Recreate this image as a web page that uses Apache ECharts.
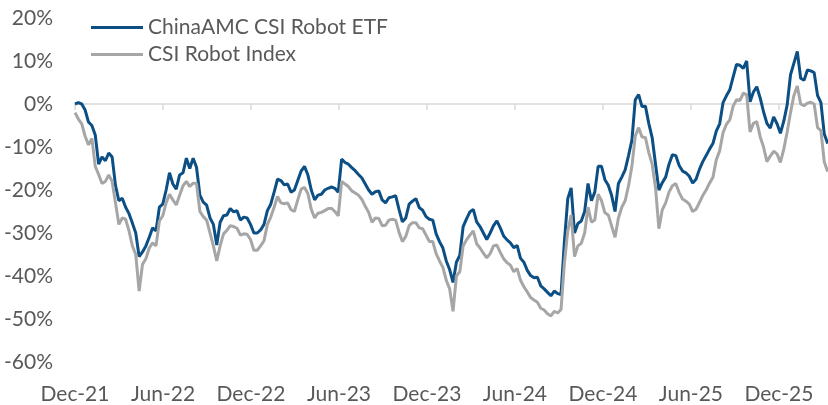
<!DOCTYPE html>
<html>
<head>
<meta charset="utf-8">
<script src="https://cdn.jsdelivr.net/npm/echarts@6/dist/echarts.min.js"></script>
<style>
html,body{margin:0;padding:0;background:#fff;}
#chart{width:828px;height:405px;}
</style>
</head>
<body>
<div id="chart"></div>
<script>
// Weekly cumulative return (%) starting Dec-21, one value per week
const seriesNames = ['ChinaAMC CSI Robot ETF', 'CSI Robot Index'];
const tickLabels = ['Dec-21','Jun-22','Dec-22','Jun-23','Dec-23','Jun-24','Dec-24','Jun-25','Dec-25'];
const weeksPerTick = 26.07; // six months in weeks
const etfValues = [
0,0.3,0,-1.4,-4.2,-5.0,-7.2,-14.0,-12.3,-13.2,
-11.4,-12.3,-19.0,-22.5,-21.9,-24.0,-25.5,-27.7,-30.0,-35.5,
-34.4,-33.0,-31.0,-28.8,-29.5,-24.0,-23.3,-20.0,-16.0,-18.6,
-19.8,-16.5,-16.0,-12.6,-15.0,-12.6,-14.7,-21.2,-22.8,-23.5,
-26.5,-28.0,-32.8,-27.5,-26.0,-25.8,-24.3,-25.1,-24.8,-27.0,
-26.3,-26.5,-28.0,-30.0,-30.0,-29.3,-28.0,-24.8,-23.3,-20.5,
-17.5,-17.8,-18.8,-18.6,-20.5,-20.0,-17.8,-15.6,-14.5,-16.5,
-20.0,-22.3,-21.2,-21.0,-20.0,-19.6,-19.3,-19.6,-20.5,-12.8,
-13.6,-14.0,-14.8,-15.5,-16.4,-17.2,-18.6,-20.0,-21.0,-20.4,
-20.2,-22.3,-23.0,-21.8,-21.6,-21.3,-24.5,-27.4,-26.5,-23.3,
-22.6,-22.0,-24.1,-24.7,-26.2,-26.8,-27.0,-30.2,-32.0,-33.5,
-36.5,-38.5,-41.5,-36.8,-35.2,-28.5,-26.7,-25.1,-24.5,-27.4,
-28.5,-30.0,-31.5,-30.0,-28.3,-27.2,-28.8,-30.7,-31.6,-32.3,
-33.4,-32.9,-35.9,-36.8,-38.7,-39.9,-40.4,-40.3,-42.3,-43.0,
-43.8,-44.6,-43.5,-44.1,-44.3,-32.0,-22.0,-19.5,-30.0,-27.8,
-27.2,-25.0,-18.5,-22.5,-20.5,-14.5,-14.5,-17.6,-18.9,-21.3,
-25.0,-18.5,-17.0,-15.3,-12.0,-8.4,1.0,2.2,-0.6,-0.5,
-4.5,-7.8,-14.0,-20.0,-18.3,-17.0,-14.0,-11.8,-12.0,-14.3,
-15.6,-16.0,-16.8,-18.4,-17.5,-15.2,-13.4,-12.0,-10.5,-9.2,
-6.3,-4.6,0.3,1.9,3.3,6.3,9.2,9.0,8.3,10.0,
0.5,2.8,4.0,1.4,-1.8,-4.5,-5.6,-3.0,-4.6,-6.8,
-4.0,-0.2,6.8,9.5,12.2,6.0,5.5,7.9,7.7,7.3,
2.0,0.3,-7.0,-9.2
];
const indexValues = [
-2.0,-3.5,-4.6,-7.5,-9.5,-8.0,-14.5,-16.4,-18.5,-18.0,
-16.5,-18.0,-23.0,-28.0,-26.5,-26.8,-29.5,-33.0,-35.0,-43.5,
-37.3,-36.0,-33.5,-32.3,-33.0,-27.2,-26.0,-23.0,-21.0,-22.3,
-23.5,-21.2,-19.0,-18.0,-19.2,-18.4,-18.5,-25.0,-26.2,-27.0,
-30.0,-33.0,-36.5,-33.0,-30.2,-29.4,-28.3,-28.5,-28.9,-30.5,
-30.2,-30.3,-31.5,-34.0,-34.0,-33.0,-31.8,-28.0,-26.3,-24.0,
-21.5,-23.0,-23.2,-23.0,-24.6,-25.0,-22.3,-19.8,-19.4,-20.8,
-24.5,-26.5,-25.4,-25.2,-24.8,-24.3,-24.3,-25.0,-26.0,-18.0,
-18.6,-19.2,-20.2,-20.7,-21.2,-22.2,-23.8,-25.2,-27.5,-26.5,
-26.6,-28.3,-28.2,-27.0,-26.8,-27.0,-29.8,-32.0,-30.8,-28.3,
-27.6,-27.6,-28.8,-29.0,-30.5,-32.0,-32.0,-34.8,-36.5,-38.0,
-41.0,-43.0,-48.2,-40.0,-39.0,-33.0,-31.6,-30.5,-29.5,-32.5,
-33.5,-34.7,-35.8,-34.8,-33.0,-32.8,-34.5,-36.0,-36.9,-37.5,
-39.0,-38.3,-41.0,-42.5,-43.7,-45.0,-45.6,-46.1,-47.5,-47.9,
-48.8,-49.3,-48.2,-48.6,-47.8,-37.0,-29.5,-25.8,-35.5,-33.0,
-32.4,-30.0,-24.0,-27.5,-27.0,-21.0,-22.5,-25.3,-25.8,-28.4,
-31.0,-26.5,-24.0,-22.5,-19.0,-14.5,-7.4,-5.5,-7.7,-7.8,
-11.3,-14.0,-19.5,-29.0,-24.6,-23.0,-20.5,-19.0,-18.5,-20.6,
-22.1,-22.6,-23.3,-25.0,-24.5,-22.9,-21.3,-20.0,-18.4,-17.1,
-13.0,-10.9,-6.7,-4.7,-3.7,-0.5,1.0,0.8,2.5,2.2,
-6.5,-4.5,-4.1,-7.6,-10.0,-13.4,-12.1,-11.0,-11.6,-13.6,
-10.5,-6.5,-2.0,2.0,4.2,0.0,-0.4,0.2,0.4,0.0,
-5.5,-6.2,-13.5,-15.7
];

const tickPos = tickLabels.map((_, i) => i * weeksPerTick);
const xMax = 223.1;
const FONT = 'Lato';
const TXT = '#595959';

const chart = echarts.init(document.getElementById('chart'), null, {renderer: 'canvas'});
chart.setOption({
  animation: false,
  backgroundColor: '#ffffff',
  grid: {left: 75, right: 0, top: 18, bottom: 43, containLabel: false},
  legend: {
    data: seriesNames,
    orient: 'vertical',
    left: 86,
    top: 12,
    icon: 'rect',
    itemWidth: 52,
    itemHeight: 3,
    itemGap: 6,
    textStyle: {fontFamily: FONT, fontSize: 21, color: TXT}
  },
  xAxis: [
    {
      type: 'value', min: 0, max: xMax, position: 'bottom',
      axisLine: {show: false, onZero: false},
      axisTick: {show: false},
      splitLine: {show: false},
      axisLabel: {
        customValues: tickPos,
        formatter: v => tickLabels[Math.round(v / weeksPerTick)] || '',
        fontFamily: FONT, fontSize: 21, color: TXT, margin: 22
      }
    },
    {
      type: 'value', min: 0, max: xMax, position: 'bottom',
      axisLine: {show: true, onZero: true, onZeroAxisIndex: 0, lineStyle: {color: '#D9D9D9', width: 1.5}},
      axisTick: {show: true, customValues: tickPos, length: 6, lineStyle: {color: '#D9D9D9', width: 1.5}},
      axisLabel: {show: false},
      splitLine: {show: false}
    }
  ],
  yAxis: {
    type: 'value', min: -60, max: 20, interval: 10,
    axisLine: {show: false}, axisTick: {show: false}, splitLine: {show: false},
    axisLabel: {formatter: v => v + '%', fontFamily: FONT, fontSize: 21, color: TXT, margin: 22}
  },
  series: [
    {
      name: seriesNames[0], type: 'line', xAxisIndex: 0, symbol: 'none',
      lineStyle: {color: '#0B4F85', width: 3}, itemStyle: {color: '#0B4F85'},
      data: etfValues.map((v, i) => [i, v])
    },
    {
      name: seriesNames[1], type: 'line', xAxisIndex: 0, symbol: 'none',
      lineStyle: {color: '#A6A6A6', width: 3}, itemStyle: {color: '#A6A6A6'},
      data: indexValues.map((v, i) => [i, v])
    }
  ]
});
</script>
</body>
</html>
